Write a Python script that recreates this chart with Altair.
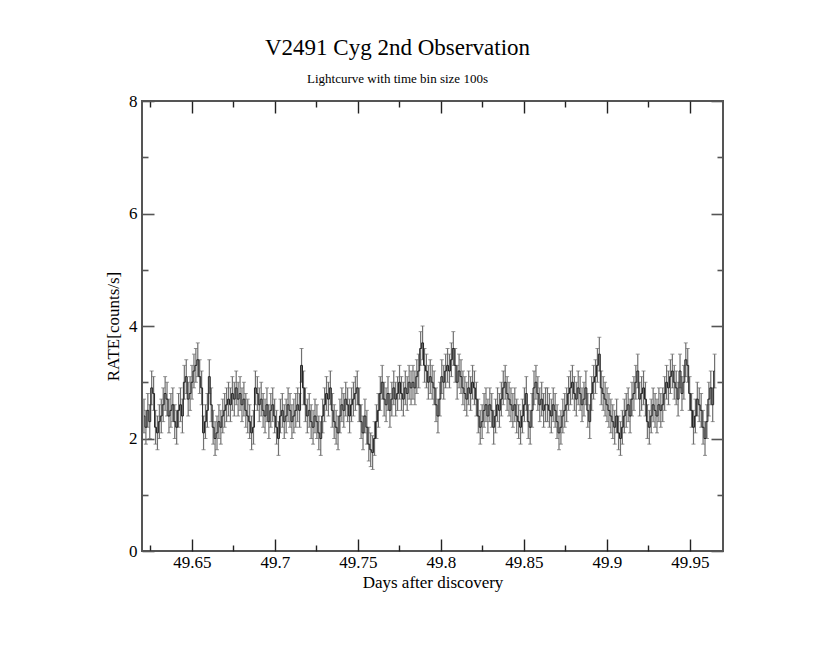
import altair as alt
import pandas as pd

# ---- data ----
T_START = 49.6212            # days after discovery, centre of the first bin
BIN_DAYS = 100.0 / 86400.0   # 100 s time bins
ERR = 0.3                    # typical 1-sigma error of a bin [counts/s]

RATE = [
    2.4, 2.2, 2.5, 2.3, 2.9, 2.8, 2.2, 2.1, 2.3, 2.4,
    2.6, 2.8, 2.7, 2.4, 2.5, 2.6, 2.3, 2.2, 2.5, 2.6,
    2.4, 3.0, 3.1, 2.7, 2.8, 3.0, 3.2, 3.3, 3.4, 3.1,
    2.9, 2.1, 2.3, 2.5, 3.1, 2.6, 2.2, 2.0, 2.1, 2.3,
    2.2, 2.4, 2.5, 2.6, 2.7, 2.6, 2.8, 2.7, 2.9, 2.7,
    2.8, 2.6, 2.7, 2.5, 2.4, 2.3, 2.1, 2.2, 2.9, 2.8,
    2.6, 2.7, 2.5, 2.4, 2.6, 2.3, 2.5, 2.6, 2.4, 2.2,
    2.0, 2.4, 2.5, 2.3, 2.4, 2.6, 2.5, 2.3, 2.4, 2.5,
    2.6, 2.5, 3.3, 2.9, 2.6, 2.4, 2.5, 2.3, 2.2, 2.4,
    2.3, 2.1, 2.0, 2.4, 2.6, 2.8, 2.7, 2.9, 2.5, 2.3,
    2.2, 2.1, 2.4, 2.6, 2.5, 2.7, 2.6, 2.4, 2.6, 2.7,
    2.8, 2.9, 2.6, 2.3, 2.1, 2.4, 2.2, 1.9, 1.8, 1.75,
    2.0, 2.3, 2.5, 2.8, 3.0, 2.7, 2.6, 2.8, 2.5, 2.7,
    2.9, 2.7, 2.8, 3.0, 2.8, 2.7, 2.9, 2.8, 3.0, 2.9,
    3.0, 2.9, 3.1, 3.2, 3.6, 3.7, 3.3, 3.2, 3.0, 3.1,
    3.0, 2.9, 2.6, 2.4, 2.7, 3.1, 3.0, 3.2, 3.3, 3.2,
    3.4, 3.6, 3.3, 3.0, 3.2, 3.1, 2.9, 2.8, 2.7, 2.9,
    2.8, 3.0, 2.9, 2.7, 2.4, 2.2, 2.3, 2.5, 2.6, 2.4,
    2.6, 2.5, 2.2, 2.4, 2.6, 2.5, 2.7, 2.9, 3.0, 2.8,
    2.7, 2.6, 2.5, 2.6, 2.4, 2.3, 2.2, 2.4, 2.6, 2.8,
    2.3, 2.2, 2.5, 2.9, 3.0, 2.8, 2.6, 2.7, 2.5, 2.6,
    2.6, 2.5, 2.4, 2.6, 2.5, 2.3, 2.1, 2.2, 2.4, 2.5,
    2.6, 2.8, 2.9, 3.0, 2.8, 2.7, 2.9, 2.8, 2.6, 2.7,
    2.9, 2.5, 2.3, 2.8, 3.0, 3.1, 3.3, 3.5, 2.9, 2.8,
    2.7, 2.6, 2.5, 2.4, 2.3, 2.2, 2.4, 2.1, 2.0, 2.2,
    2.4, 2.5, 2.6, 2.4, 2.7, 2.8, 3.0, 3.2, 2.7, 2.8,
    2.9, 2.7, 2.3, 2.2, 2.4, 2.6, 2.5, 2.4, 2.6, 2.5,
    2.6, 2.8, 3.0, 2.9, 3.1, 3.2, 3.0, 2.9, 2.7, 3.2,
    2.8, 3.0, 3.4, 3.3, 2.8, 2.5, 2.2, 2.4, 2.7, 2.6,
    2.5, 2.2, 2.0, 2.3, 2.7, 2.9, 2.6, 3.2,
]

X_DOMAIN = [49.62, 49.97]
Y_DOMAIN = [0, 8]
X_MAJOR = [49.65, 49.7, 49.75, 49.8, 49.85, 49.9, 49.95]
X_MINOR = [49.625, 49.675, 49.725, 49.775, 49.825, 49.875, 49.925]
Y_MAJOR = [0, 2, 4, 6, 8]
Y_MINOR = [1, 3, 5, 7]

TITLE = "V2491 Cyg 2nd Observation"
SUBTITLE = "Lightcurve with time bin size 100s"
X_TITLE = "Days after discovery"
Y_TITLE = "RATE[counts/s]"

df = pd.DataFrame({
    "t": [T_START + i * BIN_DAYS for i in range(len(RATE))],
    "rate": RATE,
})
df["lo"] = df["rate"] - ERR
df["hi"] = df["rate"] + ERR

FONT = "Liberation Serif"
xscale = alt.Scale(domain=X_DOMAIN, nice=False, zero=False)
yscale = alt.Scale(domain=Y_DOMAIN, nice=False, zero=False)


def x_axis(orient, size, values, labels=False, title=None):
    kw = dict(orient=orient, offset=-size, tickSize=size, values=values,
              labels=labels, domain=False, grid=False,
              tickColor="#222222", tickWidth=1.4, title=title)
    if labels:
        kw.update(format="~g", labelFont=FONT, labelFontSize=17,
                  labelColor="black", labelPadding=3,
                  titleFont=FONT, titleFontSize=17, titleFontWeight="normal",
                  titleColor="black", titlePadding=4)
    return alt.Axis(**kw)


def y_axis(orient, size, values, labels=False, title=None):
    kw = dict(orient=orient, offset=-size, tickSize=size, values=values,
              labels=labels, domain=False, grid=False,
              tickColor="#555555", tickWidth=1.6, title=title)
    if labels:
        kw.update(format="d", labelFont=FONT, labelFontSize=17,
                  labelColor="black", labelPadding=5,
                  titleFont=FONT, titleFontSize=17, titleFontWeight="normal",
                  titleColor="black", titlePadding=6)
    return alt.Axis(**kw)


base = alt.Chart(df)

bars = base.mark_rule(color="#707070", strokeWidth=1.2).encode(
    x=alt.X("t:Q", scale=xscale, axis=x_axis("bottom", 12, X_MAJOR, True, X_TITLE)),
    y=alt.Y("lo:Q", scale=yscale, axis=y_axis("left", 12, Y_MAJOR, True, Y_TITLE)),
    y2="hi:Q",
)

caps_hi = base.mark_tick(color="#666666", orient="horizontal", size=4, thickness=1).encode(
    x=alt.X("t:Q", scale=xscale, axis=x_axis("bottom", 6, X_MINOR)),
    y=alt.Y("hi:Q", scale=yscale, axis=y_axis("left", 6, Y_MINOR)),
)

caps_lo = base.mark_tick(color="#666666", orient="horizontal", size=4, thickness=1).encode(
    x=alt.X("t:Q", scale=xscale, axis=x_axis("top", 12, X_MAJOR)),
    y=alt.Y("lo:Q", scale=yscale, axis=y_axis("right", 12, Y_MAJOR)),
)

line = base.mark_line(color="#222222", strokeWidth=1, interpolate="step").encode(
    x=alt.X("t:Q", scale=xscale, axis=x_axis("top", 6, X_MINOR)),
    y=alt.Y("rate:Q", scale=yscale, axis=y_axis("right", 6, Y_MINOR)),
)

chart = (
    alt.layer(bars, caps_hi, caps_lo, line)
    .resolve_scale(x="shared", y="shared")
    .resolve_axis(x="independent", y="independent")
    .properties(
        width=581,
        height=450,
        autosize=alt.AutoSizeParams(type="none"),
        padding={"left": 142, "top": 101, "right": 108, "bottom": 95},
        background="white",
        title=alt.TitleParams(
            text=TITLE, subtitle=SUBTITLE, font=FONT, fontSize=23,
            fontWeight="normal", color="black", subtitleFont=FONT,
            subtitleFontSize=13, subtitleColor="black", subtitlePadding=13,
            anchor="middle", dx=-35, offset=6,
        ),
    )
    .configure_view(stroke="#555555", strokeWidth=2)
)

chart.save("out.html", embed_options={"renderer": "svg", "actions": False})
